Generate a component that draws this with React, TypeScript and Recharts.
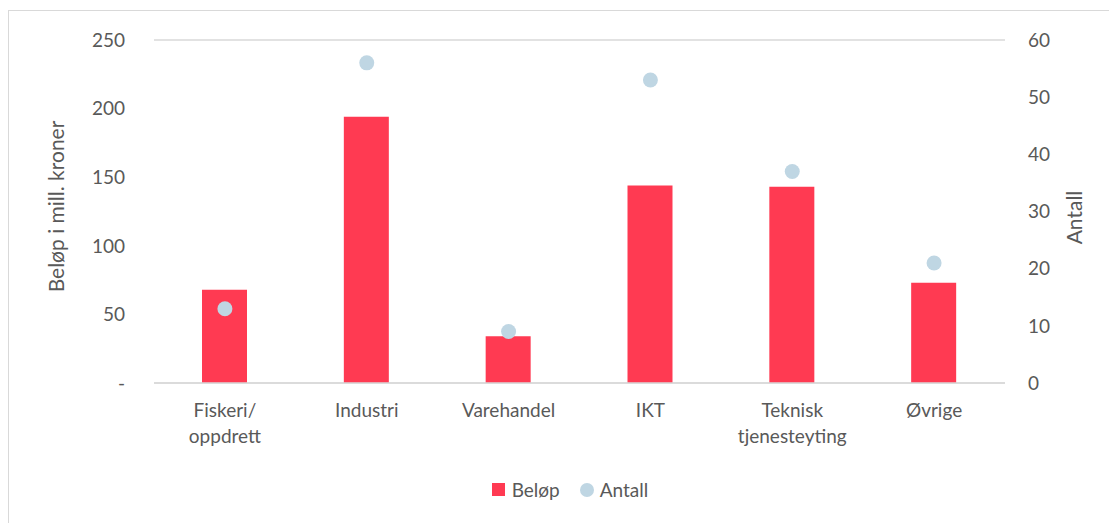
import React from "react";
import {
  ComposedChart,
  Bar,
  Line,
  XAxis,
  YAxis,
  CartesianGrid,
} from "recharts";

const categories = ["Fiskeri/\noppdrett", "Industri", "Varehandel", "IKT", "Teknisk\ntjenesteyting", "Øvrige"];
const belop = [68, 194, 34, 144, 143, 73];
const antall = [13, 56, 9, 53, 37, 21];
const leftTicks = [0, 50, 100, 150, 200, 250];
const rightTicks = [0, 10, 20, 30, 40, 50, 60];

const RED = "#FF3A52";
const BLUE = "#BFD6E3";
const TEXT = "#595959";
const GRID = "#D9D9D9";
const FONT = "Lato, 'Open Sans', sans-serif";
const FS = 19;
const TITLE_FS = 21;

const data = categories.map((c, i) => ({ name: c, belop: belop[i], antall: antall[i] }));

// x-aksen: labels med linjeskift
function CategoryTick(props: any) {
  const { x, y, payload } = props;
  const lines = String(payload.value).split("\n");
  return (
    <text x={x} y={y} textAnchor="middle" fill={TEXT} fontSize={FS} fontFamily={FONT}>
      {lines.map((l, i) => (
        <tspan key={i} x={x} dy={26}>
          {l}
        </tspan>
      ))}
    </text>
  );
}

export default function App() {
  return (
    <div style={{ position: "absolute", left: 0, top: 0, width: 1109, height: 523, background: "#fff" }}>
      <div
        style={{
          position: "absolute",
          left: 8,
          top: 10,
          width: 1110,
          height: 520,
          border: `1px solid ${GRID}`,
          boxSizing: "border-box",
        }}
      />
      <div style={{ position: "absolute", left: 0, top: 0 }}>
        <ComposedChart
          width={1109}
          height={523}
          data={data}
          margin={{ top: 40, right: 4, bottom: 40, left: 54 }}
          barCategoryGap={0}
        >
          <CartesianGrid vertical={false} stroke={GRID} strokeWidth={1.3} />
          <XAxis
            dataKey="name"
            tick={<CategoryTick />}
            tickLine={false}
            axisLine={{ stroke: GRID, strokeWidth: 1.3 }}
            interval={0}
            height={100}
          />
          <YAxis
            yAxisId="left"
            domain={[0, 250]}
            ticks={leftTicks}
            width={100}
            tickLine={false}
            axisLine={false}
            tickSize={0}
            tickMargin={29}
            tickFormatter={(v: number) => (v === 0 ? "-" : String(v))}
            tick={{ fill: TEXT, fontSize: FS, fontFamily: FONT }}
            label={{
              value: "Beløp i mill. kroner",
              angle: -90,
              position: "insideLeft",
              offset: 3,
              dy: -5,
              style: { fill: TEXT, fontSize: TITLE_FS, fontFamily: FONT, textAnchor: "middle" },
            }}
          />
          <YAxis
            yAxisId="right"
            orientation="right"
            domain={[0, 60]}
            ticks={rightTicks}
            width={100}
            tickLine={false}
            axisLine={false}
            tickSize={0}
            tickMargin={23}
            tick={{ fill: TEXT, fontSize: FS, fontFamily: FONT, textAnchor: "start" }}
            label={{
              value: "Antall",
              angle: -90,
              position: "insideRight",
              offset: 30,
              dy: 6,
              style: { fill: TEXT, fontSize: TITLE_FS, fontFamily: FONT, textAnchor: "middle" },
            }}
          />
          <Bar yAxisId="left" dataKey="belop" fill={RED} barSize={45} isAnimationActive={false} />
          <Line
            yAxisId="right"
            dataKey="antall"
            stroke="none"
            dot={{ r: 7.5, fill: BLUE, stroke: "none" }}
            activeDot={false}
            isAnimationActive={false}
          />
        </ComposedChart>
      </div>
      <div
        style={{
          position: "absolute",
          top: 478,
          left: 0,
          width: 1140,
          display: "flex",
          justifyContent: "center",
          alignItems: "center",
          fontFamily: FONT,
          fontSize: FS,
          color: TEXT,
        }}
      >
        <span style={{ display: "inline-block", width: 13, height: 13, background: RED, marginRight: 7 }} />
        <span style={{ marginRight: 20 }}>Beløp</span>
        <span
          style={{ display: "inline-block", width: 14, height: 14, borderRadius: "50%", background: BLUE, marginRight: 6 }}
        />
        <span>Antall</span>
      </div>
    </div>
  );
}
